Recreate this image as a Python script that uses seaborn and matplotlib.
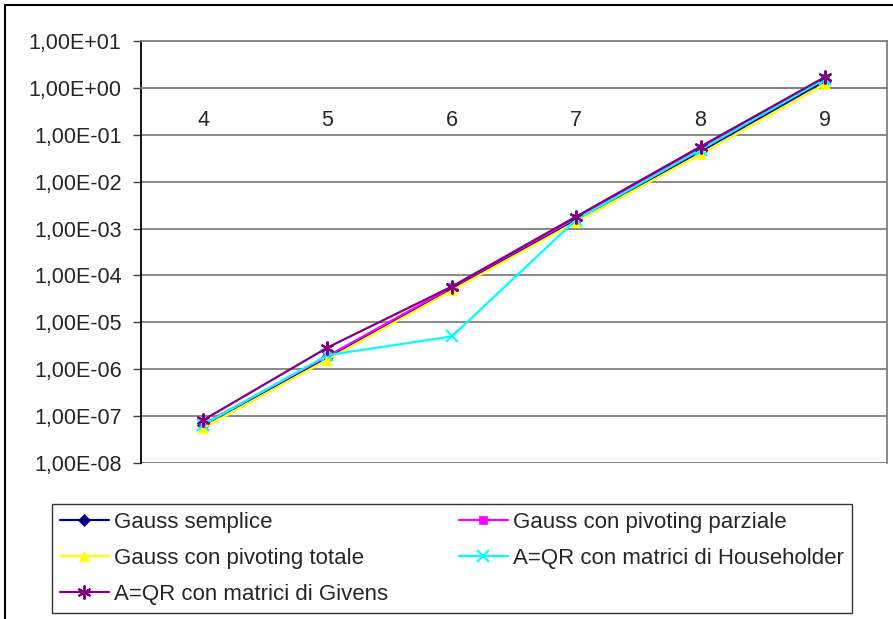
import matplotlib
matplotlib.use("Agg")
import matplotlib.pyplot as plt
import matplotlib.lines as mlines
import seaborn as sns
import pandas as pd
import numpy as np

n_values = [4, 5, 6, 7, 8, 9]
gauss_semplice = [6.4e-8, 1.8e-6, 5.2e-5, 1.5e-3, 4.4e-2, 1.4]
gauss_parziale = [6.7e-8, 1.9e-6, 5.6e-5, 1.7e-3, 5.2e-2, 1.6]
gauss_totale = [5.5e-8, 1.6e-6, 4.8e-5, 1.4e-3, 3.8e-2, 1.2]
qr_householder = [6.5e-8, 2.0e-6, 5.0e-6, 1.55e-3, 4.8e-2, 1.55]
qr_givens = [8.2e-8, 2.9e-6, 5.8e-5, 1.8e-3, 5.6e-2, 1.7]

series_names = ["Gauss semplice", "Gauss con pivoting parziale", "Gauss con pivoting totale",
                "A=QR con matrici di Householder", "A=QR con matrici di Givens"]
series_values = [gauss_semplice, gauss_parziale, gauss_totale, qr_householder, qr_givens]
colors = ["#000080", "#FF00FF", "#FFFF00", "#00FFFF", "#800080"]
markers = ["D", "s", "^", "x", (6, 2, 0)]
msizes = [6, 6, 7, 8, 10]
y_tick_labels = ["1,00E-08", "1,00E-07", "1,00E-06", "1,00E-05", "1,00E-04",
                 "1,00E-03", "1,00E-02", "1,00E-01", "1,00E+00", "1,00E+01"]

rows = []
for name, vals in zip(series_names, series_values):
    for n, v in zip(n_values, vals):
        rows.append({"n": n, "value": v, "series": name})
df = pd.DataFrame(rows)

sns.set_style("white")
plt.rcParams["font.family"] = ["Liberation Sans", "DejaVu Sans"]

FS = 15.5

fig = plt.figure(figsize=(8.93, 6.19), dpi=100)
ax = fig.add_axes([141/893, 1-463/619, (887-141)/893, (463-41)/619])

# gridlines
for k in range(-8, 2):
    ax.axhline(10.0**k, color="#808080", lw=1.3, zorder=0)

handles = []
for name, vals, c, m, ms in zip(series_names, series_values, colors, markers, msizes):
    sub = df[df["series"] == name]
    mew = 1.5 if (m == "x" or isinstance(m, tuple)) else 0.5
    sns.lineplot(data=sub, x="n", y="value", ax=ax, color=c, lw=1.6,
                 marker=m, markersize=ms, markeredgecolor=c, markerfacecolor=c,
                 markeredgewidth=mew, legend=False, zorder=3)
    handles.append(mlines.Line2D([], [], color=c, lw=1.6, marker=m, markersize=ms,
                                 markeredgecolor=c, markerfacecolor=c,
                                 markeredgewidth=mew, label=name))

ax.set_yscale("log")
ax.set_ylim(1e-8, 10)
ax.set_xlim(3.5, 9.5)
ax.set_yticks([10.0**k for k in range(-8, 2)])
ax.set_yticklabels(y_tick_labels)
ax.yaxis.set_minor_locator(matplotlib.ticker.NullLocator())
ax.tick_params(axis="y", which="major", length=6, width=1, color="#404040",
               direction="out", pad=8, labelsize=FS, left=True)

# category axis crossing at 1
ax.spines["bottom"].set_position(("data", 1.0))
ax.spines["bottom"].set_color("#808080")
ax.set_xticks(n_values)
ax.set_xticklabels([str(n) for n in n_values])
ax.tick_params(axis="x", which="major", length=0, pad=16, labelsize=FS)
ax.set_xticks([3.5 + i for i in range(7)], minor=True)
ax.tick_params(axis="x", which="minor", length=5, color="#404040", direction="out")
ax.axhline(1e-8, color="#808080", lw=1.3, zorder=1)
ax.set_xlabel("")
ax.set_ylabel("")
for s in ["top", "right"]:
    ax.spines[s].set_color("#808080")
    ax.spines[s].set_linewidth(1.3)
ax.spines["left"].set_color("#000000")
ax.spines["left"].set_linewidth(1.3)
ax.spines["bottom"].set_linewidth(1.3)

order = [0, 2, 4, 1, 3]
leg = fig.legend([handles[i] for i in order], [series_names[i] for i in order],
                 ncol=2, loc="lower left",
                 bbox_to_anchor=(52/893, 1-613/619, 800/893, 111/619),
                 mode="expand", frameon=True, fancybox=False, edgecolor="#000000",
                 fontsize=16, handlelength=2.2, handletextpad=0.25,
                 labelspacing=0.68, borderaxespad=0, borderpad=0.35,
                 columnspacing=3.0)
leg.get_frame().set_linewidth(1.0)

# outer frame
fig.add_artist(mlines.Line2D([5/893, 5/893], [0, 1-5/619], transform=fig.transFigure,
                             color="black", lw=1.5))
fig.add_artist(mlines.Line2D([5/893, 1], [1-5/619, 1-5/619], transform=fig.transFigure,
                             color="black", lw=1.5))

fig.savefig("out.png", dpi=100)
